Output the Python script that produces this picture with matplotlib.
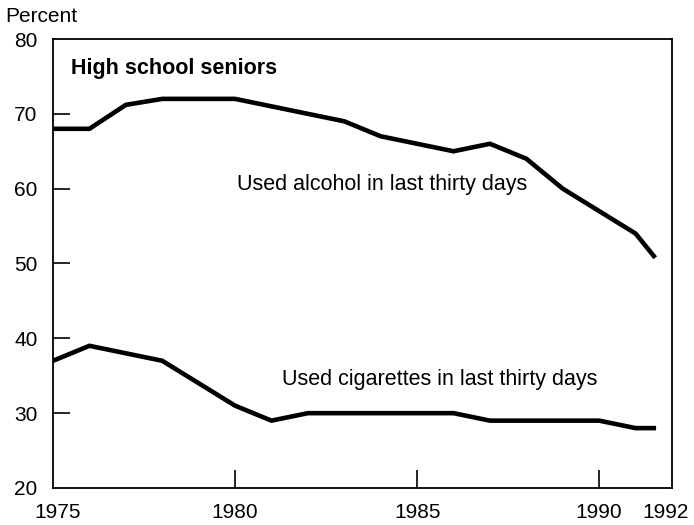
import matplotlib.pyplot as plt
from matplotlib.transforms import ScaledTranslation

# ---------- Data ----------
years = [1975, 1976, 1977, 1978, 1979, 1980, 1981, 1982, 1983,
         1984, 1985, 1986, 1987, 1988, 1989, 1990, 1991, 1991.5]
alcohol = [68, 68, 71.2, 72, 72, 72, 71, 70, 69,
           67, 66, 65, 66, 64, 60, 57, 54, 51]
cigarettes = [37, 39, 38, 37, 34, 31, 29, 30, 30,
              30, 30, 30, 29, 29, 29, 29, 28, 28]

x_labels = [1975, 1980, 1985, 1990, 1992]
y_labels = [20, 30, 40, 50, 60, 70, 80]

plt.rcParams["font.family"] = ["Liberation Sans", "DejaVu Sans"]

fig = plt.figure(figsize=(6.94, 5.25), dpi=100)
ax = fig.add_axes([0.0764, 0.0705, 0.8919, 0.8552])

ax.plot(years, alcohol, color="black", lw=3.3, solid_joinstyle="miter")
ax.plot(years, cigarettes, color="black", lw=3.3, solid_joinstyle="miter")

ax.set_xlim(1975, 1992)
ax.set_ylim(20, 80)

# labels on major ticks, marks only on inner minor ticks
ax.xaxis.remove_overlapping_locs = False
ax.yaxis.remove_overlapping_locs = False
ax.set_xticks(x_labels)
ax.set_yticks(y_labels)
ax.set_xticks([1980, 1985, 1990], minor=True)
ax.set_yticks([30, 40, 50, 60, 70], minor=True)
ax.tick_params(which="major", length=0, labelsize=15)
ax.tick_params(axis="y", which="major", pad=11)
ax.tick_params(axis="x", which="major", pad=11)
ax.tick_params(axis="y", which="minor", direction="in", length=12, width=1.2)
ax.tick_params(axis="x", which="minor", direction="in", length=13, width=1.2)

# nudge the corner year labels inward a little, as in the original
xl = ax.get_xticklabels()
xl[0].set_transform(xl[0].get_transform() + ScaledTranslation(5 / 100, 0, fig.dpi_scale_trans))
xl[-1].set_transform(xl[-1].get_transform() + ScaledTranslation(-6 / 100, 0, fig.dpi_scale_trans))

for s in ax.spines.values():
    s.set_linewidth(1.3)

ax.text(1975.5, 76, "High school seniors", fontsize=15.5, fontweight="bold",
        va="center", ha="left")
ax.text(1980.05, 60.6, "Used alcohol in last thirty days", fontsize=15.5,
        va="center", ha="left")
ax.text(1981.3, 34.5, "Used cigarettes in last thirty days", fontsize=15.5,
        va="center", ha="left")

fig.text(0.007, 0.968, "Percent", fontsize=15, va="center", ha="left")

fig.savefig("out.png", dpi=100)
